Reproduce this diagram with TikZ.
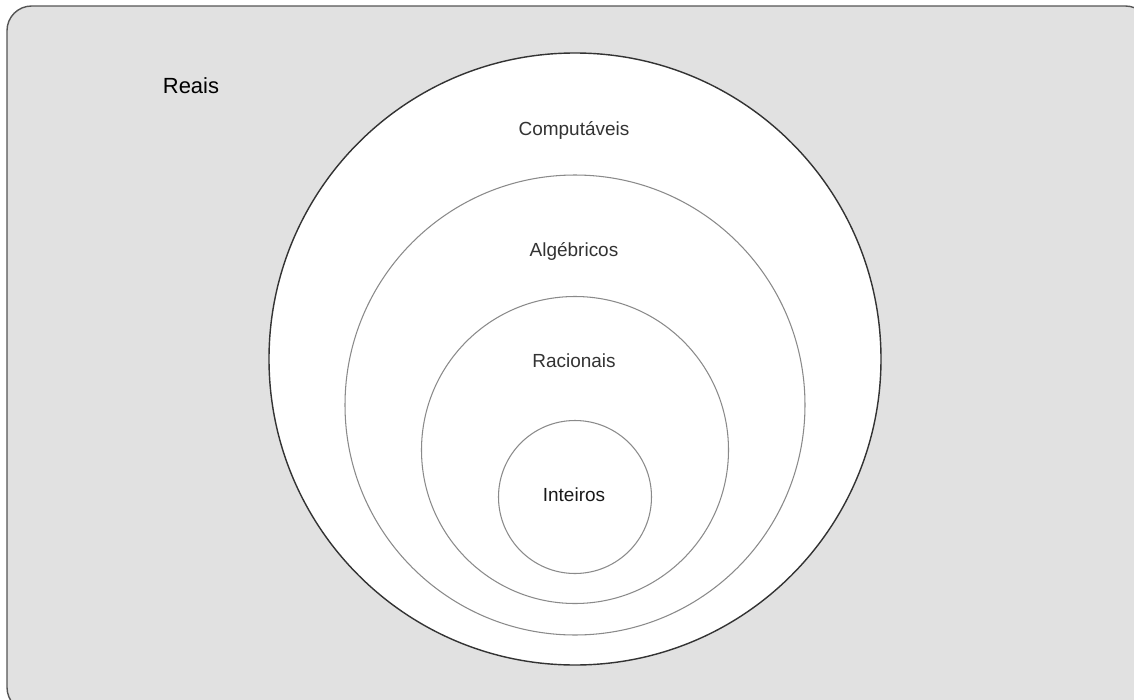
\documentclass[tikz,border=0pt]{standalone}
\usepackage{fontspec}
\setmainfont{Liberation Sans}
\usepackage{xcolor}
\usetikzlibrary{positioning}
\definecolor{panel}{HTML}{E1E1E1}
\definecolor{rim}{HTML}{555555}
\definecolor{ring}{HTML}{8A8A8A}
\definecolor{ink}{HTML}{333333}

\begin{document}
\begin{tikzpicture}[
  x=0.02cm, y=-0.02cm,
  set/.style={circle, draw=ring, fill=white, line width=0.6pt, inner sep=0pt},
  outerset/.style={set, draw=black!80, line width=0.8pt},
  tag/.style={font=\fontsize{10.8}{13}\selectfont, text=ink, inner sep=0pt}
]
\useasboundingbox (0,0) rectangle (1134,700);
\fill[white] (0,0) rectangle (1134,700);
\draw[rim, fill=panel, line width=0.8pt, rounded corners=14pt] (7,6) rectangle (1150,712);
\node[font=\fontsize{12.5}{15}\selectfont, text=black, inner sep=0pt] (reais) at (191,86) {Reais};
% nested sets
\node[outerset, minimum size=612*0.02cm] (comp) at (575,359) {};
\node[set, minimum size=460*0.02cm] (alg) at (575,405) {};
\node[set, minimum size=307*0.02cm] (rac) at (575,450) {};
\node[set, minimum size=153*0.02cm] (int) at (575,497) {};
\node[tag] (tcomp) at (574,130) {Computáveis};
\node[tag] (talg) at (574,251) {Algébricos};
\node[tag] (trac) at (574,361) {Racionais};
\node[tag, text=black!90] (tint) at (574,495) {Inteiros};
\end{tikzpicture}
\end{document}
